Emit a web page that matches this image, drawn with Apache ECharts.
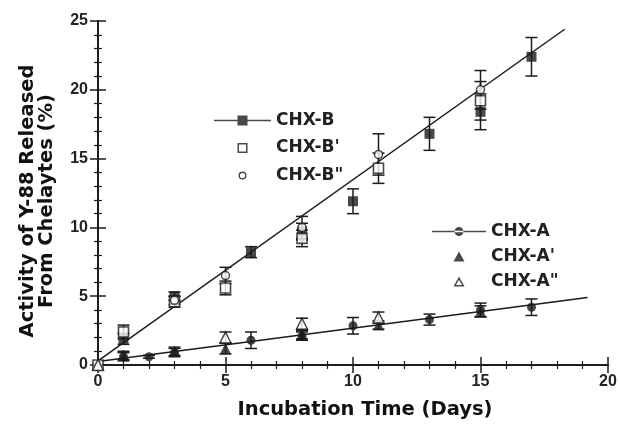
<!DOCTYPE html>
<html><head><meta charset="utf-8">
<script src="https://cdn.jsdelivr.net/npm/echarts@6/dist/echarts.min.js"></script>
<style>html,body{margin:0;padding:0;background:#fff}#c{width:620px;height:425px}</style>
</head><body><div id="c"></div>
<script>
// [day, % released, error]
var chxB   = [[1,1.9,0.4],[3,5.0,0.3],[6,8.2,0.4],[8,9.7,0.6],[10,11.9,0.9],[13,16.8,1.2],[15,18.4,1.3],[17,22.4,1.4]];
var chxB1  = [[0,0,0],[1,2.4,0.5],[3,4.6,0.4],[5,5.6,0.5],[8,9.2,0.6],[11,14.3,1.1],[15,19.2,1.4]];
var chxB2  = [[3,4.7,0.3],[5,6.5,0.6],[8,10.0,0.8],[11,15.3,1.5],[15,20.0,1.4]];
var chxA   = [[1,0.6,0.3],[2,0.6,0.1],[3,0.9,0.3],[6,1.8,0.6],[8,2.1,0.3],[10,2.85,0.6],[13,3.3,0.4],[15,4.0,0.5],[17,4.2,0.6]];
var chxA1  = [[1,0.7,0.3],[3,1.0,0.3],[5,1.2,0.4],[8,2.2,0.3],[11,2.9,0.3],[15,3.9,0.4]];
var chxA2  = [[0,0,0],[5,2.0,0.4],[8,3.0,0.4],[11,3.45,0.4]];
var fitB   = [[0,0.3],[18.3,24.4]];
var fitA   = [[0,0.25],[19.2,4.9]];
var xTicks = [0,5,10,15,20];
var yTicks = [0,5,10,15,20,25];

var INK = '#1c1c1c';
var errData = [].concat(chxB, chxB1, chxB2, chxA, chxA1, chxA2).filter(function(d){return d[2] > 0;});

function pts(a){ return a.map(function(d){ return [d[0], d[1]]; }); }

var axisCommon = {
  min: 0,
  splitLine: {show: false},
  axisLine: {lineStyle: {color: INK, width: 2}},
  axisTick: {inside: true, length: 8, lineStyle: {color: INK, width: 1.5}},
  minorTick: {show: true, splitNumber: 5, length: 4, lineStyle: {color: INK, width: 1.2}},
  axisLabel: {color: '#222', fontFamily: 'Arial', fontWeight: 'bold', fontSize: 16}
};
function ax(extra){ return Object.assign(JSON.parse(JSON.stringify(axisCommon)), extra); }

// legend icon helpers (paths sized exactly to the legend item box)
function box(w){ return ' M0,0H0.01V0.01H0Z M' + (w-0.01) + ',9.99H' + w + 'V10H' + (w-0.01) + 'Z'; }
var legIcon = {
  B:  'path://M0,4.3H57V5.7H0Z M23.5,0H33.5V10H23.5Z' + box(57),
  B1: 'path://M23.5,0H33.5V10H23.5Z M25,1.5V8.5H32V1.5Z' + box(57),
  B2: 'path://M24.5,5a4,4 0 1,0 8,0a4,4 0 1,0 -8,0Z M25.9,5a2.6,2.6 0 1,1 5.2,0a2.6,2.6 0 1,1 -5.2,0Z' + box(57),
  A:  'path://M0,4.3H54V5.7H0Z M22.5,5a4.5,4.5 0 1,0 9,0a4.5,4.5 0 1,0 -9,0Z' + box(54),
  A1: 'path://M27,0L32.5,10H21.5Z' + box(54),
  A2: 'path://M27,0L32.5,10H21.5Z M27,3.3L23.9,8.6H30.1Z' + box(54)
};
var legStyle = {color: INK, borderWidth: 0};
var legText = {color: '#222', fontFamily: 'DejaVu Sans', fontWeight: 'bold', fontSize: 17};

var chart = echarts.init(document.getElementById('c'), null, {renderer: 'canvas'});
chart.setOption({
  backgroundColor: '#fff',
  animation: false,
  grid: {left: 98, right: 12, top: 21, bottom: 58},
  xAxis: [
    ax({type: 'value', max: 20, interval: 5, position: 'bottom',
        axisLabel: {color: '#222', fontFamily: 'Arial', fontWeight: 'bold', fontSize: 16, margin: 9,
                    formatter: function(v){ return xTicks.indexOf(v) >= 0 ? String(v) : ''; }},
        name: 'Incubation Time (Days)', nameLocation: 'middle', nameGap: 35,
        nameTextStyle: {color: '#111', fontFamily: 'DejaVu Sans', fontWeight: 'bold', fontSize: 19.5, padding: [0, 0, 0, 24]}}),
    ax({type: 'value', max: 20, interval: 5, position: 'top', axisLabel: {show: false}})
  ],
  yAxis: [
    ax({type: 'value', max: 25, interval: 5, position: 'left',
        axisLabel: {color: '#222', fontFamily: 'Arial', fontWeight: 'bold', fontSize: 16, margin: 10,
                    formatter: function(v){ return yTicks.indexOf(v) >= 0 ? String(v) : ''; }},
        name: 'Activity of Y-88 Released\nFrom Chelaytes (%)', nameLocation: 'middle', nameGap: 42, nameRotate: 90,
        nameTextStyle: {color: '#111', fontFamily: 'DejaVu Sans', fontWeight: 'bold', fontSize: 19.5, lineHeight: 19, align: 'center', padding: [0, 16, 0, 0]}}),
    ax({type: 'value', max: 25, interval: 5, position: 'right', axisLabel: {show: false}})
  ],
  legend: [
    {orient: 'vertical', left: 209, top: 107, itemWidth: 57, itemHeight: 10, itemGap: 10.5, textStyle: legText,
     data: [
       {name: 'CHX-B', icon: legIcon.B, itemStyle: legStyle},
       {name: "CHX-B'", icon: legIcon.B1, itemStyle: legStyle},
       {name: 'CHX-B"', icon: legIcon.B2, itemStyle: legStyle}
     ]},
    {orient: 'vertical', left: 427, top: 218, itemWidth: 54, itemHeight: 10, itemGap: 8, textStyle: legText,
     data: [
       {name: 'CHX-A', icon: legIcon.A, itemStyle: legStyle},
       {name: "CHX-A'", icon: legIcon.A1, itemStyle: legStyle},
       {name: 'CHX-A"', icon: legIcon.A2, itemStyle: legStyle}
     ]}
  ],
  series: [
    {type: 'line', data: fitB, showSymbol: false, silent: true, lineStyle: {color: INK, width: 1.5}, z: 1},
    {type: 'line', data: fitA, showSymbol: false, silent: true, lineStyle: {color: INK, width: 1.5}, z: 1},
    {type: 'custom', z: 2, silent: true, data: errData,
     renderItem: function(params, api){
       var x = api.value(0), y = api.value(1), e = api.value(2);
       var top = api.coord([x, y + e]), bot = api.coord([x, y - e]);
       var s = {stroke: INK, lineWidth: 1.5, fill: null};
       return {type: 'group', children: [
         {type: 'line', shape: {x1: top[0], y1: top[1], x2: bot[0], y2: bot[1]}, style: s},
         {type: 'line', shape: {x1: top[0]-6, y1: top[1], x2: top[0]+6, y2: top[1]}, style: s},
         {type: 'line', shape: {x1: bot[0]-6, y1: bot[1], x2: bot[0]+6, y2: bot[1]}, style: s}
       ]};
     }},
    {name: 'CHX-B', type: 'scatter', data: pts(chxB), symbol: 'rect', symbolSize: 10, itemStyle: {color: INK}, z: 3},
    {name: "CHX-B'", type: 'scatter', data: pts(chxB1), symbol: 'rect', symbolSize: 10,
     itemStyle: {color: '#fff', borderColor: INK, borderWidth: 1.6}, z: 4},
    {name: 'CHX-B"', type: 'scatter', data: pts(chxB2), symbol: 'circle', symbolSize: 8,
     itemStyle: {color: '#fff', borderColor: INK, borderWidth: 1.5}, z: 4},
    {name: 'CHX-A', type: 'scatter', data: pts(chxA), symbol: 'circle', symbolSize: 9, itemStyle: {color: INK}, z: 3},
    {name: "CHX-A'", type: 'scatter', data: pts(chxA1), symbol: 'triangle', symbolSize: 11, itemStyle: {color: INK}, z: 3},
    {name: 'CHX-A"', type: 'scatter', data: pts(chxA2), symbol: 'triangle', symbolSize: 11,
     itemStyle: {color: '#fff', borderColor: INK, borderWidth: 1.5}, z: 4}
  ]
});
</script></body></html>
